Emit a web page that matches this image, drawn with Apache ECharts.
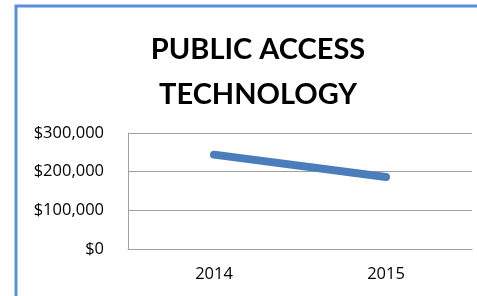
<!DOCTYPE html>
<html>
<head>
<meta charset="utf-8">
<script src="https://cdn.jsdelivr.net/npm/echarts@6/dist/echarts.min.js"></script>
<style>
  html, body { margin: 0; padding: 0; background: #fff; }
  #container { width: 477px; height: 296px; }
</style>
</head>
<body>
<div id="container"></div>
<script>
var years = ['2014', '2015'];
var spending = [244000, 186000];
var yTicks = [0, 100000, 200000, 300000];

var dom = document.getElementById('container');
var myChart = echarts.init(dom, null, { renderer: 'canvas' });

var option = {
  animation: false,
  title: {
    text: 'PUBLIC ACCESS\nTECHNOLOGY',
    left: 253,
    top: 22,
    textAlign: 'center',
    textStyle: {
      fontFamily: 'Lato',
      fontWeight: 'bold',
      fontSize: 29,
      lineHeight: 45,
      color: '#000'
    }
  },
  graphic: [
    {
      // chart area border (cut off on the right and bottom)
      type: 'rect',
      shape: { x: 16, y: 6, width: 520, height: 400 },
      style: { fill: 'none', stroke: '#5A8EDC', lineWidth: 3 }
    }
  ],
  grid: {
    left: 128,
    right: 5,
    top: 133,
    bottom: 47
  },
  xAxis: {
    type: 'category',
    data: years,
    axisLine: { lineStyle: { color: '#A0A0A0', width: 1 } },
    axisTick: { show: false },
    axisLabel: {
      margin: 17,
      color: '#000',
      fontFamily: 'Open Sans',
      fontSize: 16.5
    }
  },
  yAxis: {
    type: 'value',
    min: yTicks[0],
    max: yTicks[yTicks.length - 1],
    interval: 100000,
    axisLine: { show: true, lineStyle: { color: '#A0A0A0', width: 1 } },
    axisTick: { show: false },
    splitLine: { lineStyle: { color: '#A0A0A0', width: 1 } },
    axisLabel: {
      margin: 24,
      color: '#000',
      fontFamily: 'Open Sans',
      fontSize: 16.5,
      formatter: function (v) {
        return '$' + v.toLocaleString('en-US');
      }
    }
  },
  series: [
    {
      type: 'line',
      data: spending,
      symbol: 'none',
      lineStyle: { color: '#4A7EBB', width: 8, cap: 'round' }
    }
  ]
};

myChart.setOption(option);
window.addEventListener('resize', myChart.resize);
</script>
</body>
</html>
